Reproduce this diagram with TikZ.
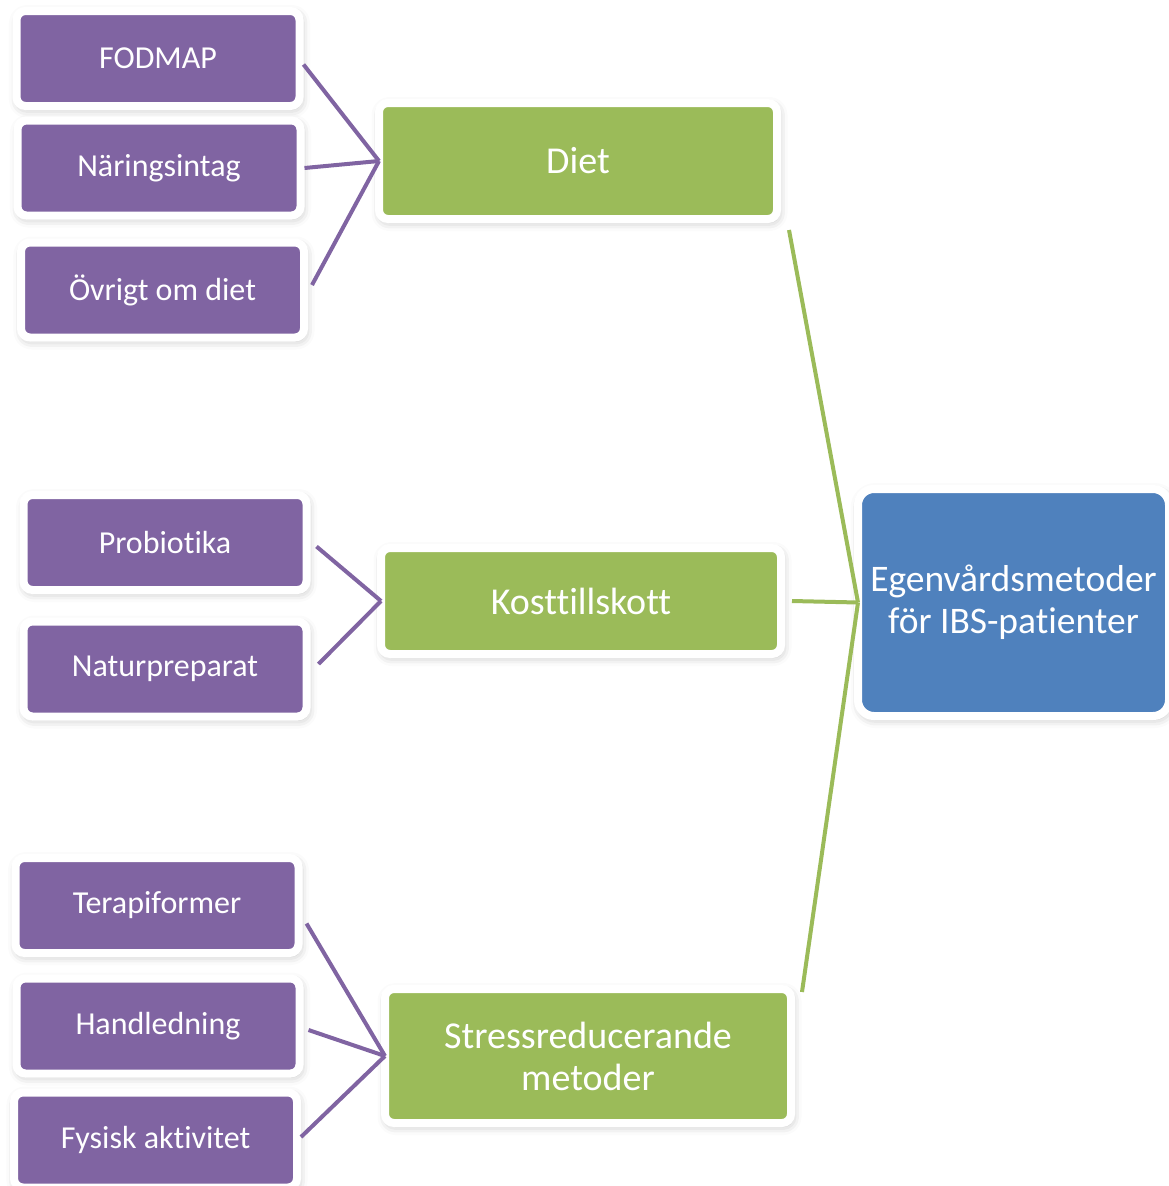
\documentclass[tikz,border=0pt]{standalone}
\usepackage{fontspec}
\setsansfont[Ligatures=NoCommon]{Carlito}
\definecolor{Purple}{HTML}{8064A2}
\definecolor{Olive}{HTML}{9BBB59}
\definecolor{Steel}{HTML}{4F81BD}
\usepackage{tikz}
\usetikzlibrary{positioning,shadows.blur}
\tikzset{
  card/.style={draw=white,line width=8pt,rounded corners=9pt,outer sep=4pt,
    align=center,text=white,font=\sffamily\fontsize{32}{38}\selectfont,
    blur shadow={shadow xshift=1.5pt,shadow yshift=-3pt,shadow blur radius=9pt,shadow opacity=28}},
  sub/.style={card,fill=Purple,minimum width=283pt,minimum height=95pt},
  topic/.style={card,fill=Olive,font=\sffamily\fontsize{38}{42}\selectfont},
  goal/.style={card,fill=Steel,rounded corners=16pt,minimum width=311pt,minimum height=227pt,
    font=\sffamily\fontsize{37.5}{42}\selectfont},
  purpleline/.style={Purple,line width=4pt},
  greenline/.style={Olive,line width=4pt}
}
\begin{document}
\begin{tikzpicture}[x=1pt,y=-1pt]
  \useasboundingbox (0,0) rectangle (1168,1186);
  \node[goal] (mal) at (1013.5,602.5) {Egenvårdsmetoder\\för IBS-patienter};
  \node[topic,minimum width=398pt,minimum height=116pt] (diet) at (578,161) {Diet};
  \node[topic,minimum width=400pt,minimum height=106pt] (kost) at (581,601) {Kosttillskott};
  \node[topic,minimum width=406pt,minimum height=134pt] (stress) at (588,1056) {Stressreducerande\\metoder};
  \node[sub] (d1) at (158,58.5) {FODMAP};
  \node[sub] (d2) at (159,168) {Näringsintag};
  \node[sub] (d3) at (162.5,290) {Övrigt om diet};
  \node[sub] (k1) at (165,542.5) {Probiotika};
  \node[sub] (k2) at (165,669) {Naturpreparat};
  \node[sub] (s1) at (157,905.5) {Terapiformer};
  \node[sub] (s2) at (158,1026) {Handledning};
  \node[sub] (s3) at (155.5,1140) {Fysisk aktivitet};
  \draw[purpleline] ([yshift=-6]d1.east) -- ([xshift=4]diet.west);
  \draw[purpleline] (d2.east) -- ([xshift=4]diet.west);
  \draw[purpleline] ([xshift=4,yshift=5]d3.east) -- ([xshift=4]diet.west);
  \draw[purpleline] ([xshift=6,yshift=-4]k1.east) -- ([xshift=4]kost.west);
  \draw[purpleline] ([xshift=8,yshift=5]k2.east) -- ([xshift=4]kost.west);
  \draw[purpleline] ([xshift=4,yshift=-18]s1.east) -- ([xshift=4]stress.west);
  \draw[purpleline] ([xshift=5,yshift=-4]s2.east) -- ([xshift=4]stress.west);
  \draw[purpleline] ([yshift=3]s3.east) -- ([xshift=4]stress.west);
  \draw[greenline] ([shift={(8,7)}]diet.south east) -- ([xshift=4]mal.west);
  \draw[greenline] ([xshift=7]kost.east) -- ([xshift=4]mal.west);
  \draw[greenline] ([shift={(7,7)}]stress.north east) -- ([xshift=4]mal.west);
\end{tikzpicture}
\end{document}
